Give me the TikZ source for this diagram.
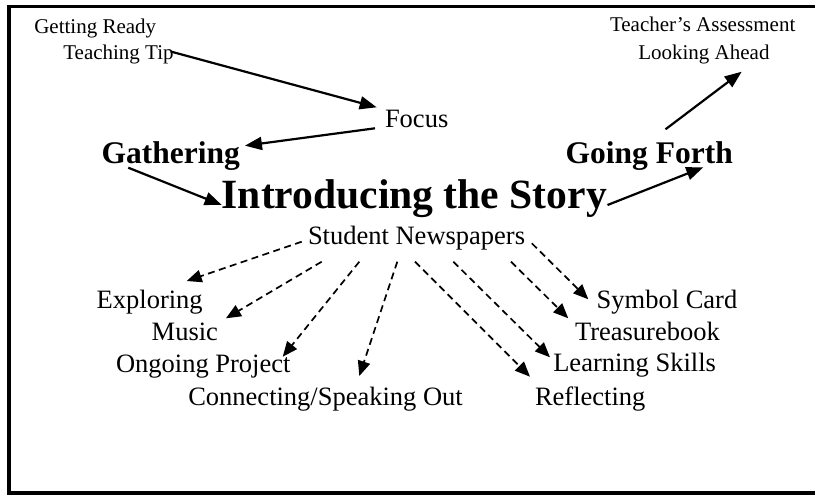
\documentclass[tikz,border=0pt]{standalone}
\usepackage{fontspec}
\setmainfont{Liberation Serif}
\usetikzlibrary{arrows.meta,calc}
\begin{document}
\begin{tikzpicture}[x=1pt,y=-1pt,
  lbl/.style={anchor=base west,inner sep=0pt,outer sep=0pt,font=\fontsize{21}{24}\selectfont},
  mid/.style={lbl,font=\fontsize{26.5}{30}\selectfont},
  head/.style={lbl,font=\fontsize{31.5}{36}\selectfont\bfseries},
  ttl/.style={lbl,font=\fontsize{41.6}{48}\selectfont\bfseries},
  solidarrow/.style={line width=2.2pt,-{Triangle[length=17pt,width=13pt]}},
  dasharrow/.style={line width=1.7pt,dash pattern=on 7pt off 4.5pt,-{Triangle[length=15pt,width=12.5pt]}},
  frame/.style={line width=3.5pt}]
\useasboundingbox (0,0) rectangle (815,495);
\draw[frame] (815,6.5) -- (9,6.5) -- (9,493) -- (815,493);

\node[lbl] (ready) at (34.3,33.3) {Getting Ready};
\node[lbl] (tip) at (63.3,59.5) {Teaching Tip};
\node[lbl] (teacher) at (610,31.7) {Teacher’s Assessment};
\node[lbl] (ahead) at (638.3,60) {Looking Ahead};
\node[mid] (focus) at (385,127.7) {Focus};
\node[head] (gath) at (101.7,163.3) {Gathering};
\node[head] (forth) at (565.7,163.3) {Going Forth};
\node[ttl] (intro) at (221.7,208.3) {Introducing the Story};
\node[mid] (news) at (308,244.5) {Student Newspapers};
\node[mid] (expl) at (96.7,308.3) {Exploring};
\node[mid] (music) at (151.7,340) {Music};
\node[mid] (ongo) at (116,372.3) {Ongoing Project};
\node[mid] (conn) at (188.3,405) {Connecting/Speaking Out};
\node[mid] (symb) at (596.7,308.3) {Symbol Card};
\node[mid] (treas) at (575,340) {Treasurebook};
\node[mid] (learn) at (553.3,371.7) {Learning Skills};
\node[mid] (refl) at (535,405) {Reflecting};

\draw[solidarrow] ($(tip.base east)+(-3,-8)$) -- ($(focus.base west)+(-8.3,-20.4)$);
\draw[solidarrow] ($(focus.base west)+(-10,0.6)$) -- ($(gath.base east)+(5,-17.6)$);
\draw[solidarrow] ($(gath.base west)+(26.6,4.4)$) -- ($(intro.base west)+(0,-3.3)$);
\draw[solidarrow] ($(intro.base east)+(0.6,-3.3)$) -- ($(forth.base west)+(137.6,4)$);
\draw[solidarrow] ($(forth.base west)+(99.8,-34)$) -- ($(ahead.base west)+(103.4,11.7)$);

\draw[dasharrow] ($(news.base west)+(-6.3,-2.8)$) -- ($(expl.base east)+(-16,-27.3)$);
\draw[dasharrow] ($(news.base west)+(13.7,17.2)$) -- ($(music.base east)+(8,-21.7)$);
\draw[dasharrow] ($(news.base west)+(51.3,17.2)$) -- ($(ongo.base east)+(-7.7,-15.6)$);
\draw[dasharrow] ($(news.base west)+(89.3,17.2)$) -- ($(conn.base west)+(171,-29)$);
\draw[dasharrow] ($(news.base west)+(107,17.2)$) -- ($(refl.base west)+(-5,-28.3)$);
\draw[dasharrow] ($(news.base west)+(145.3,17.2)$) -- ($(learn.base west)+(-3.3,-14.4)$);
\draw[dasharrow] ($(news.base west)+(203,17.2)$) -- ($(treas.base west)+(-6.7,-21.7)$);
\draw[dasharrow] ($(news.base east)+(6.7,-1.2)$) -- ($(symb.base west)+(-8.4,-9)$);
\end{tikzpicture}
\end{document}
